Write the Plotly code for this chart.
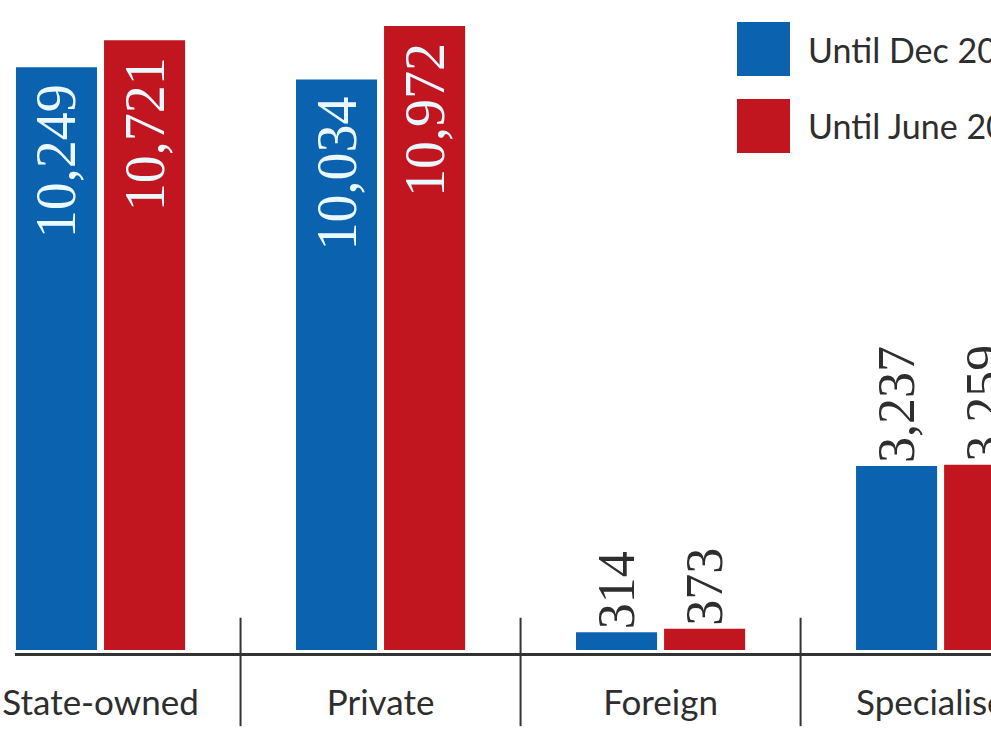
import plotly.graph_objects as go

categories = ["State-owned", "Private", "Foreign", "Specialised"]
series_names = ["Until Dec 2012", "Until June 2013"]
dec_2012 = [10249, 10034, 314, 3237]
june_2013 = [10721, 10972, 373, 3259]
label_pos = ["inside", "inside", "outside", "outside"]

BLUE = "#0b63b0"
RED = "#c1161f"
DARK = "#2e2e2e"
SANS = "Lato, 'Liberation Sans', sans-serif"
SERIF = "'Liberation Serif', 'Times New Roman', Times, serif"

fig = go.Figure()
for name, vals, col in [(series_names[0], dec_2012, BLUE), (series_names[1], june_2013, RED)]:
    fig.add_trace(go.Bar(
        x=categories, y=vals, name=name,
        marker=dict(color=col, line=dict(width=0)),
        texttemplate="%{y:,}\u00a0",
        textposition=label_pos,
        textangle=-90,
        insidetextanchor="end",
        insidetextfont=dict(family=SERIF, size=56, color="#eaf8ff"),
        outsidetextfont=dict(family=SERIF, size=52, color=DARK),
        constraintext="none",
        cliponaxis=True,
        showlegend=False,
    ))

fig.update_layout(
    width=991, height=734,
    margin=dict(l=0, r=0, t=0, b=81, autoexpand=False),
    paper_bgcolor="white", plot_bgcolor="white",
    barmode="group", bargap=0.371, bargroupgap=0.0795,
    showlegend=False,
    xaxis=dict(
        range=[-0.359, 3.18],
        showline=False,
        showgrid=False, zeroline=False, ticks="",
        tickfont=dict(family=SANS, size=35, color=DARK),
        ticklabelstandoff=26,
    ),
    yaxis=dict(range=[-53, 11430], visible=False, showgrid=False, zeroline=False),
)

# baseline (starts a little in from the left edge, as in the original)
fig.add_shape(type="line", xref="paper", yref="paper", x0=15 / 991, x1=1.0,
              y0=-1.5 / 653, y1=-1.5 / 653, line=dict(color="#333333", width=3))

# category separators
for xv in [0.5, 1.5, 2.5]:
    fig.add_shape(type="line", xref="x", yref="paper", x0=xv, x1=xv, y0=0.054, y1=-0.112,
                  line=dict(color="#333333", width=2))

# legend drawn manually with large square swatches
legend_rows = [(series_names[0], BLUE, 1.0 - 22 / 653, 1.0 - 76 / 653),
               (series_names[1], RED, 1.0 - 99 / 653, 1.0 - 153 / 653)]
for name, col, ytop, ybot in legend_rows:
    fig.add_shape(type="rect", xref="paper", yref="paper",
                  x0=737 / 991, x1=790 / 991, y0=ybot, y1=ytop,
                  fillcolor=col, line=dict(width=0))
    fig.add_annotation(xref="paper", yref="paper", x=806 / 991, y=(ytop + ybot) / 2,
                       text=name, showarrow=False, xanchor="left", yanchor="middle",
                       font=dict(family=SANS, size=34, color=DARK))

fig.write_html("out.html")
